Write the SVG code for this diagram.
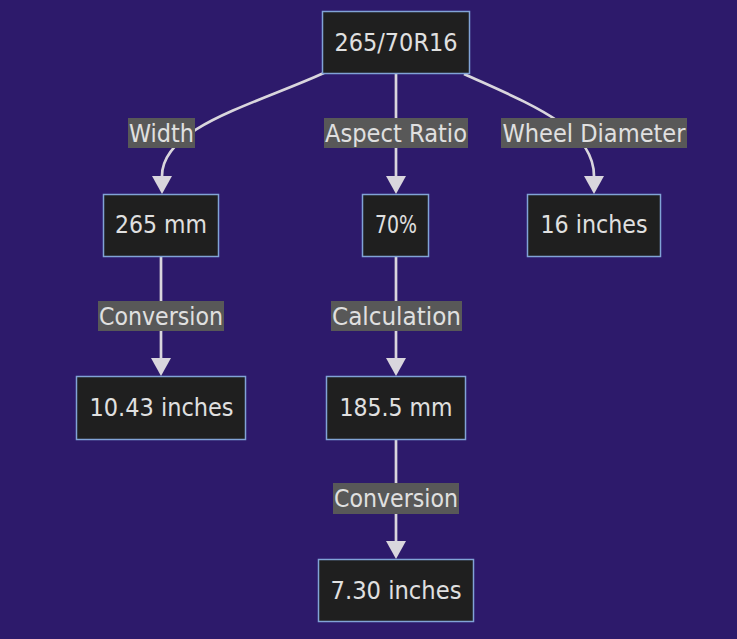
<svg xmlns="http://www.w3.org/2000/svg" width="737" height="639" viewBox="0 0 737 639">
  <style>
    .node rect { fill: #1f1f1f; stroke: #81a3d6; stroke-width: 1.5; }
    .node text { fill: #e0e0e0; font-family: "DejaVu Sans Condensed", "DejaVu Sans", sans-serif; font-size: 25px; text-anchor: middle; }
    .edge { fill: none; stroke: #d9d6dd; stroke-width: 2.7; }
    .elabel rect { fill: #585858; stroke: none; }
    .elabel text { fill: #e0e0e0; font-family: "DejaVu Sans Condensed", "DejaVu Sans", sans-serif; font-size: 25px; text-anchor: middle; }
  </style>
  <defs>
    <marker id="arrow" markerUnits="userSpaceOnUse" markerWidth="18" markerHeight="20" viewBox="0 0 18 20" refX="0" refY="10" orient="auto">
      <path d="M0,0 L18,10 L0,20 z" fill="#d9d6dd"/>
    </marker>
  </defs>
  <rect x="0" y="0" width="737" height="639" fill="#2d1a6b"/>

  <g id="connectors">
    <path class="edge" d="M324,73 C250,106 162,128 162,176" marker-end="url(#arrow)"/>
    <path class="edge" d="M396,74 L396,176" marker-end="url(#arrow)"/>
    <path class="edge" d="M464,74 C530,104 594,128 594,176" marker-end="url(#arrow)"/>
    <path class="edge" d="M161,257 L161,358" marker-end="url(#arrow)"/>
    <path class="edge" d="M396,257 L396,358" marker-end="url(#arrow)"/>
    <path class="edge" d="M396,440 L396,541" marker-end="url(#arrow)"/>
  </g>

  <g id="edge-labels">
    <g class="elabel" id="label-width"><rect x="128" y="118" width="67" height="30"/><text x="161.5" y="142" textLength="65" lengthAdjust="spacingAndGlyphs">Width</text></g>
    <g class="elabel" id="label-aspect"><rect x="324" y="118" width="144" height="30"/><text x="396" y="142" textLength="142" lengthAdjust="spacingAndGlyphs">Aspect Ratio</text></g>
    <g class="elabel" id="label-wheel"><rect x="501" y="118" width="186" height="30"/><text x="594" y="142" textLength="183" lengthAdjust="spacingAndGlyphs">Wheel Diameter</text></g>
    <g class="elabel" id="label-conv1"><rect x="98" y="301" width="126" height="30"/><text x="161" y="325" textLength="124" lengthAdjust="spacingAndGlyphs">Conversion</text></g>
    <g class="elabel" id="label-calc"><rect x="331" y="301" width="131" height="30"/><text x="396.5" y="325" textLength="129" lengthAdjust="spacingAndGlyphs">Calculation</text></g>
    <g class="elabel" id="label-conv2"><rect x="333" y="483" width="126" height="31"/><text x="396" y="507" textLength="124" lengthAdjust="spacingAndGlyphs">Conversion</text></g>
  </g>

  <g class="node" id="node-tire"><rect x="322.5" y="11.5" width="147" height="62"/><text x="396" y="51" textLength="123" lengthAdjust="spacingAndGlyphs">265/70R16</text></g>
  <g class="node" id="node-265mm"><rect x="103.5" y="194.5" width="115" height="62"/><text x="161" y="233" textLength="92" lengthAdjust="spacingAndGlyphs">265 mm</text></g>
  <g class="node" id="node-70"><rect x="362.5" y="194.5" width="66" height="62"/><text x="396" y="233" textLength="42" lengthAdjust="spacingAndGlyphs">70%</text></g>
  <g class="node" id="node-16in"><rect x="527.5" y="194.5" width="133" height="62"/><text x="594" y="233" textLength="107" lengthAdjust="spacingAndGlyphs">16 inches</text></g>
  <g class="node" id="node-1043"><rect x="76.5" y="376.5" width="169" height="63"/><text x="161.5" y="416" textLength="144" lengthAdjust="spacingAndGlyphs">10.43 inches</text></g>
  <g class="node" id="node-1855"><rect x="326.5" y="376.5" width="139" height="63"/><text x="396" y="416" textLength="113" lengthAdjust="spacingAndGlyphs">185.5 mm</text></g>
  <g class="node" id="node-730"><rect x="318.5" y="559.5" width="155" height="62"/><text x="396" y="598.5" textLength="131" lengthAdjust="spacingAndGlyphs">7.30 inches</text></g>
</svg>
